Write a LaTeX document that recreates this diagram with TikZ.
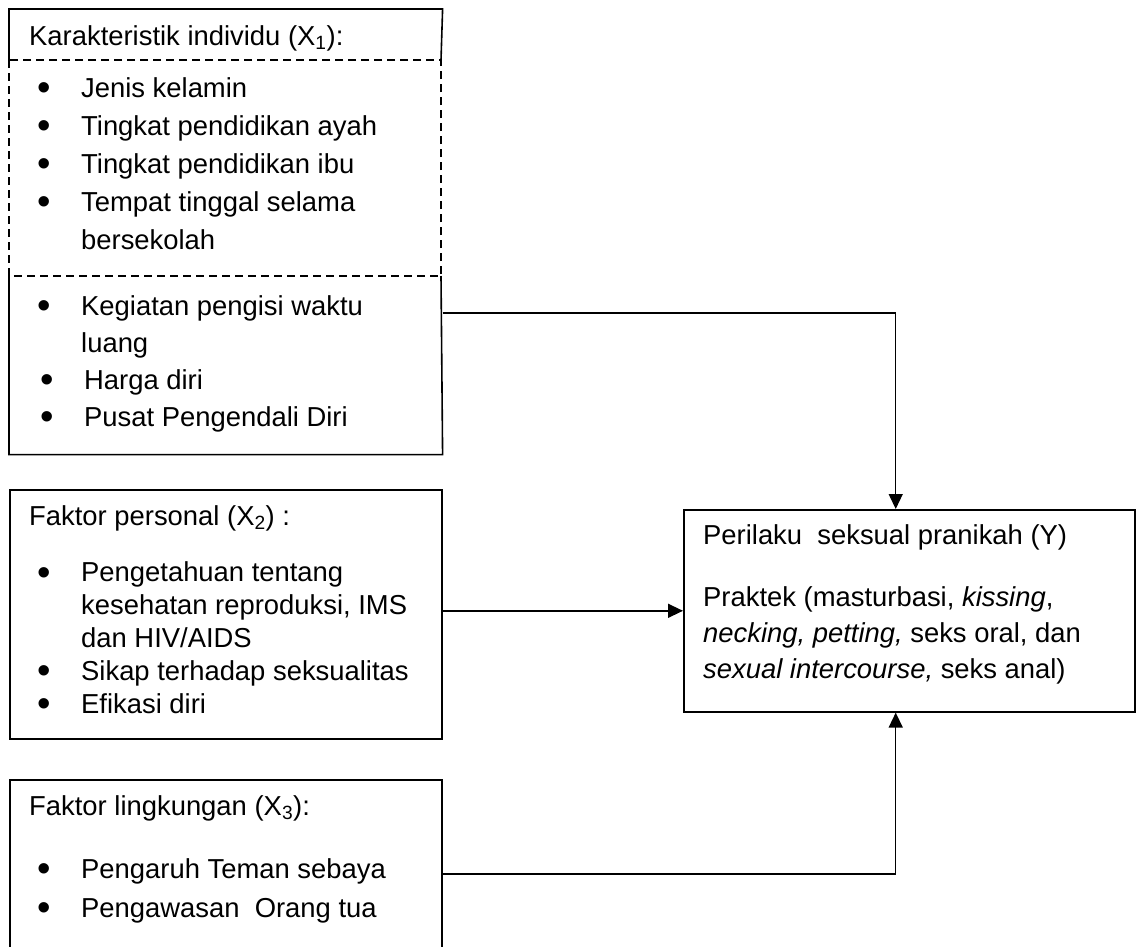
\documentclass[tikz,border=0pt]{standalone}
\usepackage{fontspec}
\setmainfont{Liberation Sans}
\usetikzlibrary{arrows.meta,calc,positioning}

\newcommand\bul{\makebox[44pt][l]{\smash{\raisebox{-3.5pt}{\scalebox{1.4}{\textbullet}}}}}
\newcommand\ind{\hspace*{44pt}}

\begin{document}
\begin{tikzpicture}[x=1pt,y=-1pt,
  panel/.style={draw, line width=1.6pt, anchor=north west, inner sep=0pt},
  txt/.style={anchor=base west, align=left, inner sep=0pt, font=\fontsize{27.4}{38}\selectfont},
  flow/.style={line width=1.4pt, -{Triangle[width=14pt,length=15pt]}}]
  \useasboundingbox (0,0) rectangle (1136,946);

  % boxes
  \node[panel, draw=none, minimum width=432pt, minimum height=444pt] (X1) at (9,9) {};
  \node[panel, minimum width=432pt, minimum height=249pt] (X2) at (9,489) {};
  \node[panel, minimum width=432pt, minimum height=200pt] (X3) at (9,779) {};
  \node[panel, minimum width=451pt, minimum height=202pt] (Y) at (683,509) {};

  % X1 outline, dashed middle part
  \coordinate (d1w) at (9,60);
  \coordinate (d1e) at (441,60);
  \coordinate (d2w) at (9,276);
  \coordinate (d2e) at (441,276);
  \draw[line width=1.6pt] (d1w) |- (X1.north east) -- (d1e);
  \draw[line width=1.2pt, dash pattern=on 8pt off 5pt] (d1w) rectangle (d2e);
  \draw[line width=1.6pt] (d2w) |- (X1.south east) -- (d2e);

  % texts (base = last line)
  \node[txt] (X1h) at (29,45) {Karakteristik individu (X\textsubscript{1}):};
  \node[txt] (X1a) at (37,249) {\bul Jenis kelamin\\ \bul Tingkat pendidikan ayah\\
    \bul Tingkat pendidikan ibu\\ \bul Tempat tinggal selama\\ \ind bersekolah};
  \node[txt, font=\fontsize{27.4}{37}\selectfont] (X1b) at (37,426) {\bul Kegiatan pengisi waktu\\ \ind luang\\
    \hspace*{3pt}\bul Harga diri\\ \hspace*{3pt}\bul Pusat Pengendali Diri};

  \node[txt] (X2h) at (29,525) {Faktor personal (X\textsubscript{2}) :};
  \node[txt, font=\fontsize{27.4}{32.8}\selectfont] (X2a) at (37,713) {\bul Pengetahuan tentang\\
    \ind kesehatan reproduksi, IMS\\ \ind dan HIV/AIDS\\
    \bul Sikap terhadap seksualitas\\ \bul Efikasi diri};

  \node[txt] (X3h) at (29,815) {Faktor lingkungan (X\textsubscript{3}):};
  \node[txt, font=\fontsize{27.4}{39}\selectfont] (X3a) at (37,917) {\bul Pengaruh Teman sebaya\\
    \bul Pengawasan\ \ Orang tua};

  \node[txt] (Yh) at (703,544) {Perilaku\ \ seksual pranikah (Y)};
  \node[txt, font=\fontsize{27.4}{36}\selectfont] (Ya) at (703,678) {Praktek (masturbasi, \textit{kissing},\\
    \textit{necking, petting,} seks oral, dan\\ \textit{sexual intercourse,} seks anal)};

  % connectors
  \draw[flow] ($(X1.north east)+(0,304)$) -| ($(Y.north west)!0.47!(Y.north east)$);
  \draw[flow] (X2.east |- Y.west) -- (Y.west);
  \draw[flow] ($(X3.north east)+(0,95)$) -| ($(Y.south west)!0.47!(Y.south east)$);
\end{tikzpicture}
\end{document}
